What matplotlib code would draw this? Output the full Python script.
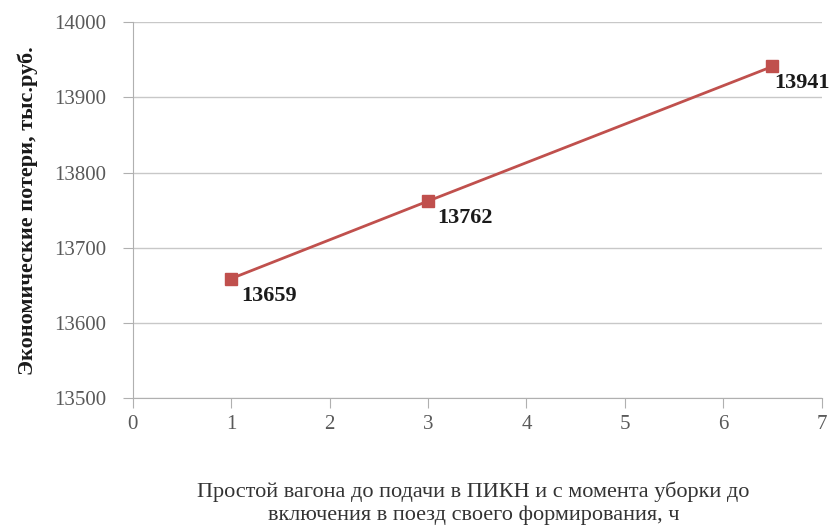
import matplotlib
matplotlib.use("Agg")
import matplotlib.pyplot as plt

# data
hours = [1, 3, 6.5]
losses = [13659, 13762, 13941]
x_ticks = [0, 1, 2, 3, 4, 5, 6, 7]
y_ticks = [13500, 13600, 13700, 13800, 13900, 14000]

plt.rcParams['font.family'] = ['Liberation Serif', 'DejaVu Serif']

fig = plt.figure(figsize=(8.35, 5.26), dpi=100)
ax = fig.add_axes([0.159, 0.243, 0.825, 0.715])

ax.plot(hours, losses, color='#c0504d', lw=2, marker='s', ms=8, zorder=3)
# last label sits closer to its marker so it stays inside the figure
label_dx = [7, 7, 1]
for x, y, dx in zip(hours, losses, label_dx):
    ax.annotate(str(y), (x, y), xytext=(dx, -5), textcoords='offset points',
                ha='left', va='top', fontsize=16, fontweight='bold', color='#1a1a1a')

ax.set_xlim(0, 7)
ax.set_ylim(13500, 14000)
ax.set_xticks(x_ticks)
ax.set_yticks(y_ticks)
ax.grid(axis='y', color='#c8c8c8', lw=1)
ax.set_axisbelow(True)
for s in ['top', 'right']:
    ax.spines[s].set_visible(False)
for s in ['left', 'bottom']:
    ax.spines[s].set_color('#b0b0b0')
ax.tick_params(colors='#b0b0b0', labelcolor='#595959', labelsize=15, length=7)
ax.tick_params(axis='x', pad=5)
ax.tick_params(axis='y', pad=12)

ax.set_ylabel('Экономические потери, тыс.руб.', fontsize=16, fontweight='bold',
              color='#1a1a1a')
ax.yaxis.set_label_coords(-0.138, 0.5)

fig.text(0.567, 0.043, 'Простой вагона до подачи в ПИКН и с момента уборки до\n'
         'включения в поезд своего формирования, ч',
         ha='center', va='center', fontsize=16, color='#333333', linespacing=1.25)

fig.savefig('out.png', dpi=100)
